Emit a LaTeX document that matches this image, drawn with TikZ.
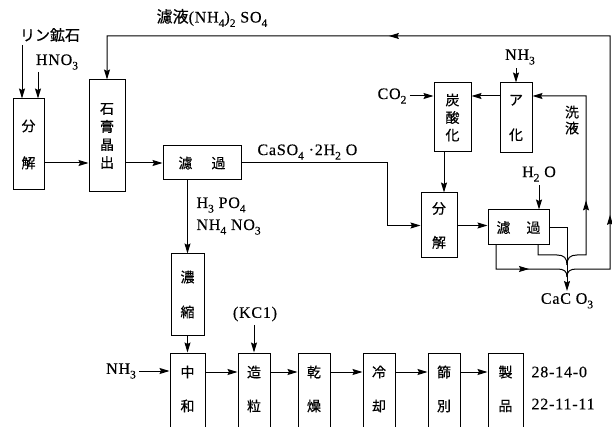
\documentclass[tikz,border=0pt]{standalone}
\usepackage{fontspec}
\setmainfont{Liberation Serif}[LetterSpace=5,FakeBold=0.3]
\newfontfamily\jp{Noto Sans CJK JP}[FakeBold=0.4]
\usetikzlibrary{arrows.meta,decorations.markings}
\newcommand\dn[1]{\raisebox{-0.28em}{\fontsize{11.5}{11.5}\selectfont #1}}
\tikzset{
  ln/.style={line width=1pt},
  arr/.style={ln,->},
  box/.style={draw,ln,inner sep=0pt,align=center},
  jpt/.style={font=\jp\fontsize{14}{#1}\selectfont,align=center},
  midarr/.style={postaction={decorate},decoration={markings,mark=at position #1 with {\arrow{>}}}},
  midarrs/.style 2 args={postaction={decorate},decoration={markings,mark=at position #1 with {\arrow{>}},mark=at position #2 with {\arrow{>}}}},
}
\begin{document}
\begin{tikzpicture}[x=1pt,y=-1pt,font=\fontsize{16}{19}\selectfont,>={Stealth[length=10pt,width=6pt,inset=1.5pt]}]
\useasboundingbox (0,0) rectangle (612,427);
\clip (0,0) rectangle (612,427);

% ---- boxes ----
\node[box,jpt=37,minimum width=31pt,minimum height=91pt] (bk1) at (28.5,144.5) {分\\解};
\node[box,jpt=18,minimum width=36pt,minimum height=112pt] (sk) at (107,136) {石\\膏\\晶\\出};
\node[box,jpt=17,minimum width=78pt,minimum height=34pt] (rk1) at (202,163) {濾\hspace{19pt}過};
\node[box,jpt=35,minimum width=33pt,minimum height=81pt] (ns) at (187.5,294.5) {濃\\縮};
\node[box,jpt=17.5,minimum width=37pt,minimum height=69pt] (ts) at (452.5,117.5) {炭\\酸\\化};
\node[box,jpt=35,minimum width=32pt,minimum height=70pt] (ak) at (516,118) {ア\\化};
\node[box,jpt=34,minimum width=36pt,minimum height=65pt] (bk2) at (439,225.5) {分\\解};
\node[box,jpt=17,minimum width=61pt,minimum height=35pt] (rk2) at (518.5,227.5) {濾\hspace{16pt}過};

% bottom row (boxes run off the lower edge)
\node[box,minimum width=35pt,minimum height=92pt] (zw) at (187.5,399) {};
\node[box,minimum width=32pt,minimum height=92pt] (zr) at (254,399) {};
\node[box,minimum width=32pt,minimum height=92pt] (ks) at (314,399) {};
\node[box,minimum width=32pt,minimum height=92pt] (rs) at (379,399) {};
\node[box,minimum width=32pt,minimum height=92pt] (fb) at (444,399) {};
\node[box,minimum width=35pt,minimum height=92pt] (sh) at (505.5,399) {};
\node[jpt=17] (zw1) at (187.5,372) {中};
\node[jpt=17] (zw2) at (187.5,406) {和};
\node[jpt=17] (zr1) at (254,372) {造};
\node[jpt=17] (zr2) at (254,406) {粒};
\node[jpt=17] (ks1) at (314,372) {乾};
\node[jpt=17] (ks2) at (314,406) {燥};
\node[jpt=17] (rs1) at (379,372) {冷};
\node[jpt=17] (rs2) at (379,406) {却};
\node[jpt=17] (fb1) at (444,372) {篩};
\node[jpt=17] (fb2) at (444,406) {別};
\node[jpt=17] (sh1) at (505.5,372) {製};
\node[jpt=17] (sh2) at (505.5,406) {品};

% ---- labels ----
\node[font=\jp\fontsize{15}{18}\selectfont] (rin) at (50,35) {リン鉱石};
\node (hno) at (57,62) {HNO\dn{3}};
\node (fl) at (212,18) {{\jp 濾液}(NH\dn{4})\dn{2} SO\dn{4}};
\node[anchor=west] (cs) at (254,152) {CaSO\dn{4} ·2H\dn{2} O};
\node[anchor=west] (hp) at (193,205) {H\dn{3} PO\dn{4}};
\node[anchor=west] (an) at (193,227) {NH\dn{4} NO\dn{3}};
\node (co2) at (392,96) {CO\dn{2}};
\node (nt) at (520,57) {NH\dn{3}};
\node (h2o) at (539,174) {H\dn{2} O};
\node[jpt=16] (wl) at (572,120) {洗\\液};
\node[anchor=north,inner sep=2pt] (caco3) at (567,291) {CaC O\dn{3}};
\node (kc) at (255,314) {(KC1)};
\node (nb) at (121,371) {NH\dn{3}};
\node[anchor=west] (p1) at (528,372) {28-14-0};
\node[anchor=west] (p2) at (528,404) {22-11-11};

% ---- helper coordinates ----
\coordinate (rinp) at (22,45);
\coordinate (hnop) at (38,72);
\coordinate (b1) at (387,163);
\coordinate (tsx) at (444,152);
\coordinate (wa) at (538,245);
\coordinate (wb) at (496,245);
\coordinate (tl) at (107,36);

% ---- connectors ----
\draw[arr] (rinp) -- (rinp |- bk1.north);
\draw[arr] (hnop) -- (hnop |- bk1.north);
\draw[arr] (bk1.east |- rk1.west) -- (sk.west |- rk1.west);
\draw[arr] (sk.east |- rk1.west) -- (rk1.west);
\draw[arr] (rk1.east) -- (b1) |- (bk2.west);
\draw[arr] (bk2.east) -- (bk2.east -| rk2.west);
\draw[arr] (tsx) -- (tsx |- bk2.north);
\draw[arr] (co2.east) -- (co2 -| ts.west);
\draw[arr] (co2 -| ak.west) -- (co2 -| ts.east);
\draw[arr] (nt.south -| ak.north) -- (ak.north);
\draw[arr] (h2o.south) -- (h2o.south |- rk2.north);
\draw[arr] (rk2.east) -| (caco3.north);

% wash liquid branch
\draw[ln] (wa) -- (538,255) -- (557,255) .. controls (564,255) and (567,258) .. (567,265);
\draw[arr,midarr=80pt] (567,265) .. controls (567,258) and (570,255) .. (577,255) -- (586,255) -- (586,96) -- (co2 -| ak.east);

% filtrate recycle branch
\draw[ln,midarr=57pt] (wb) -- (496,269) -- (557,269) .. controls (564,269) and (567,271) .. (567,277);
\draw[arr,midarrs={102pt}{502pt}] (567,277) .. controls (567,271) and (570,269) .. (577,269) -- (610,269) -- (610,36) -- (tl) -- (sk.north);

% lower stream
\draw[arr] (rk1.south -| ns.north) -- (ns.north);
\draw[arr] (ns.south) -- (zw.north);
\draw[arr] (kc.south -| zr.north) -- (zr.north);
\draw[arr] (nb.east) -- (nb -| zw.west);
\draw[arr] (zw1 -| zw.east) -- (zw1 -| zr.west);
\draw[arr] (zw1 -| zr.east) -- (zw1 -| ks.west);
\draw[arr] (zw1 -| ks.east) -- (zw1 -| rs.west);
\draw[arr] (zw1 -| rs.east) -- (zw1 -| fb.west);
\draw[arr] (zw1 -| fb.east) -- (zw1 -| sh.west);
\end{tikzpicture}
\end{document}
